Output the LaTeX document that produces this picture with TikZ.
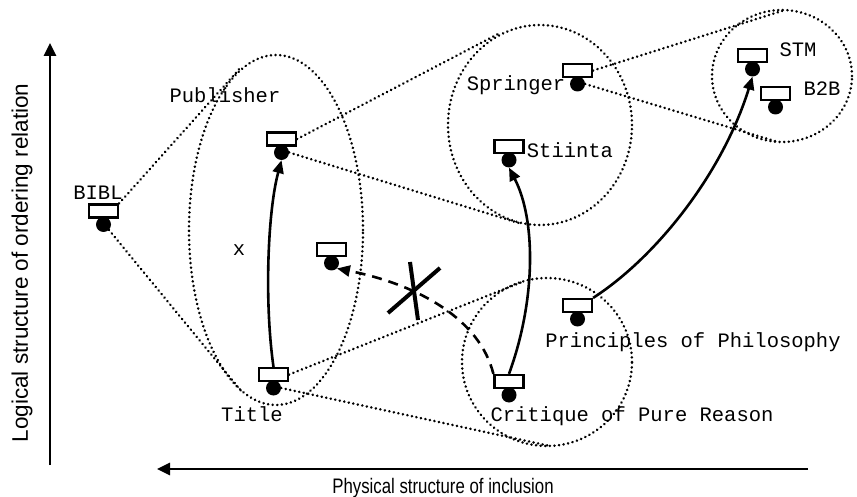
\documentclass[tikz,border=0pt]{standalone}
\usepackage{fontspec}
\newfontfamily\cour{Liberation Mono}
\newfontfamily\arialf{Liberation Sans}
\newfontfamily\arialn[FakeStretch=0.8]{Liberation Sans}
\usetikzlibrary{arrows.meta,shapes.geometric}
\tikzset{
  box/.style={draw, line width=2.2pt, fill=white, minimum width=29pt, minimum height=13pt, inner sep=0pt},
  blob/.style={circle, fill=black, minimum size=15pt, inner sep=0pt},
  grp/.style={ellipse, draw, line width=2.8pt, dash pattern=on 0.01pt off 4.6pt, line cap=round, inner sep=0pt},
  dotline/.style={line width=2.8pt, dash pattern=on 0.01pt off 4.6pt, line cap=round},
  lab/.style={font=\cour\fontsize{20.5}{24}\selectfont, anchor=base, inner sep=0pt},
  rel/.style={line width=2.6pt, -{Triangle[length=13pt,width=11pt]}},
  ax/.style={line width=2.6pt, -{Triangle[length=13pt,width=12pt]}},
}
\newcommand\icon[3]{\node[blob] (#1c) at (#2,#3+13.5) {};\node[box] (#1) at (#2,#3) {};}
\begin{document}
\begin{tikzpicture}[x=1pt,y=-1pt]
\useasboundingbox (0,0) rectangle (857,497);
% groups
\node[grp, minimum width=174pt, minimum height=350pt] (g1) at (276,230) {};
\node[grp, minimum width=184pt, minimum height=200pt] (g2) at (540,125) {};
\node[grp, minimum width=140pt, minimum height=132pt] (g3) at (782,76) {};
\node[grp, minimum width=170pt, minimum height=168pt] (g4) at (547,362) {};
% icons
\icon{bibl}{103.5}{211}
\icon{pub}{281.5}{139}
\icon{mid}{331.5}{249.5}
\icon{spr}{577.5}{70.5}
\icon{sti}{509}{146.5}
\icon{stm}{752.5}{55.5}
\icon{bb}{775.5}{93.5}
\icon{title}{273.5}{374.5}
\icon{crit}{509}{381.5}
\icon{prin}{577.5}{305.5}
% free ends on group outlines
\coordinate (e1) at (242,66);
\coordinate (e2) at (242,392);
\coordinate (e3) at (500,33);
\coordinate (e4) at (522,224);
\coordinate (e5) at (785,10);
\coordinate (e6) at (778,142);
\coordinate (e7) at (522,282);
\coordinate (e8) at (550,446);
% dotted connectors
\draw[dotline] (bibl.north east) -- (e1);
\draw[dotline] (biblc.south east) -- (e2);
\draw[dotline] (pub.east) -- (e3);
\draw[dotline] (pubc.east) -- (e4);
\draw[dotline] (spr.east) -- (e5);
\draw[dotline] (sprc.east) -- (e6);
\draw[dotline] (title.east) -- (e7);
\draw[dotline] (titlec.east) -- (e8);
% labels
\node[lab] (lbibl) at (98,200) {BIBL};
\node[lab] (lpub) at (225,103) {Publisher};
\node[lab] (lspr) at (516,91) {Springer};
\node[lab] (lsti) at (570,158) {Stiinta};
\node[lab] (lstm) at (798,57) {STM};
\node[lab] (lbb) at (822,96) {B2B};
\node[lab] (ltitle) at (252,421) {Title};
\node[lab] (lcrit) at (632,421) {Critique of Pure Reason};
\node[lab] (lprin) at (693,347) {Principles of Philosophy};
\node[lab] (lx) at (239,255) {x};
% relations
\draw[rel] (title.north) .. controls (264,300) and (268,210) .. (pubc.south);
\draw[rel] (crit.north) .. controls (536,300) and (536,220) .. (stic.south);
\draw[rel] (prin.north east) .. controls (655,258) and (722,175) .. (stmc.south);
\draw[rel, dash pattern=on 10pt off 7pt] (crit.north west) .. controls (480,320) and (420,285) .. (midc.south east);
% cross
\draw[line width=4pt] (410,262) -- (418,320);
\draw[line width=4pt] (388,313) -- (440,268);
% axes
\coordinate (v0) at (50,465);
\coordinate (v1) at (50,43);
\coordinate (h0) at (808,469);
\coordinate (h1) at (157,469);
\draw[ax] (v0) -- (v1);
\draw[ax] (h0) -- (h1);
\node[font=\arialf\fontsize{22.5}{26}\selectfont, rotate=90, inner sep=0pt] (lv) at (22,263) {Logical structure of ordering relation};
\node[font=\arialn\fontsize{21}{24}\selectfont, inner sep=0pt] (lh) at (443,488) {Physical structure of inclusion};
\end{tikzpicture}
\end{document}
